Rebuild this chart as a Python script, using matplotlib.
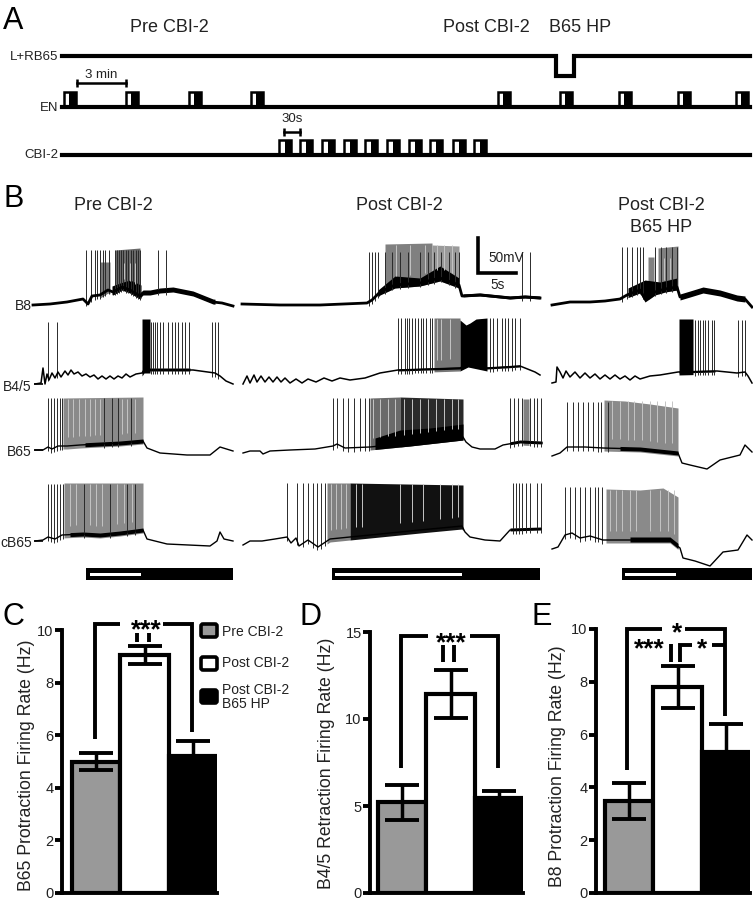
import numpy as np
import matplotlib
matplotlib.use('Agg')
import matplotlib.pyplot as plt
from matplotlib.patches import Rectangle, FancyBboxPatch

plt.rcParams['font.family'] = ['Liberation Sans', 'DejaVu Sans']

# panel C, D, E values
groups = ['Pre CBI-2', 'Post CBI-2', 'Post CBI-2\nB65 HP']
bar_colors = ['#999999', '#ffffff', '#000000']
b65_rate = [5.0, 9.05, 5.2]
b65_err = [0.33, 0.35, 0.58]
b45_rate = [5.22, 11.43, 5.48]
b45_err = [1.0, 1.4, 0.4]
b8_rate = [3.48, 7.8, 5.33]
b8_err = [0.67, 0.81, 1.06]

# panel A protocol
en_pulses = [64, 126, 189, 251, 498, 560, 619, 678, 736]
cbi_pulses = [279, 300, 322, 344, 365, 387, 409, 430, 453, 474]

# panel B traces, x and y read in pixels of the picture
b8_pre_x = [33, 50, 67, 83, 88, 92, 100, 108, 113, 122, 130, 140, 143, 150, 160, 173, 193, 213, 222, 233]
b8_pre_y = [305, 304, 302, 299, 304, 296, 295, 290, 292, 287, 290, 296, 293, 293, 291, 290, 294, 302, 303, 306]
b8_pre_spk = [86, 91, 95, 97, 100, 103, 105, 109, 115, 117, 119, 121, 123, 126, 128, 131, 133, 136, 138, 140, 158, 166]
b8_pre_band = [([100, 110], [262, 262], '#777777'), ([115, 140], [250, 248], '#6a6a6a'), ([112, 120, 130, 141], [286, 283, 280, 285], '#000000')]
b8_pre_light = [117, 124, 130, 135]
b8_pre_hair = (140, 215, 3, 2)

b45_pre_x = [35, 41, 43, 45, 47, 49, 52, 55, 58, 61, 65, 68, 71, 74, 78, 82, 86, 90, 94, 98, 102, 106, 110, 114, 118, 122, 126, 130, 136, 142, 144,
             173, 193, 215, 220, 226, 233]
b45_pre_y = [384, 383, 368, 384, 374, 380, 373, 378, 372, 377, 371, 375, 370, 374, 372, 376, 374, 377, 375, 379, 376, 379, 376, 379, 376, 378, 374, 377, 374, 373, 370,
             370, 370, 373, 376, 381, 384]
b45_pre_spk = [48, 57, 151, 153, 155, 157, 160, 163, 168, 172, 175, 178, 182, 185, 189, 212, 215, 218]
b45_pre_band = [([142, 150], [319, 319], '#000000')]
b45_pre_light = []
b45_pre_hair = (142, 190, 2, 1)

b65_pre_x = [35, 43, 48, 52, 58, 67, 80, 100, 120, 143, 147, 160, 187, 210, 220, 233]
b65_pre_y = [450, 450, 447, 449, 446, 446, 445, 444, 443, 441, 448, 453, 455, 455, 447, 451]
b65_pre_spk = [48, 51, 54, 57, 60, 62, 104, 112, 118, 131]
b65_pre_band = [([63, 143], [398, 397], '#8a8a8a')]
b65_pre_light = [68, 73, 79, 85, 90, 95, 100, 122, 127, 135]
b65_pre_hair = (85, 143, 2, 2)

cb65_pre_x = [35, 43, 48, 55, 62, 83, 100, 120, 143, 147, 167, 210, 217, 220, 224, 233]
cb65_pre_y = [541, 540, 537, 539, 535, 534, 535, 533, 530, 539, 544, 546, 541, 532, 539, 541]
cb65_pre_spk = [48, 51, 54, 57, 60, 63, 84, 110, 127, 135]
cb65_pre_band = [([64, 143], [483, 483], '#8a8a8a')]
cb65_pre_light = [70, 76, 90, 96, 102, 117, 124, 132]
cb65_pre_hair = (70, 143, 2, 2)

b8_post_x = [242, 280, 320, 367, 372, 380, 395, 420, 440, 459, 462, 480, 510, 525, 540]
b8_post_y = [304, 305, 305, 303, 300, 292, 285, 283, 278, 285, 296, 295, 298, 297, 298]
b8_post_spk = [369, 372, 375, 378, 385, 392, 400, 408, 420, 428, 434, 441, 449, 455, 459, 522, 530]
b8_post_band = [([385, 432], [244, 243], '#808080'), ([432, 459], [245, 246], '#9a9a9a'), ([378, 395, 420, 440, 459], [290, 276, 278, 266, 278], '#000000')]
b8_post_light = [396, 410, 425, 437, 444, 452]
b8_post_hair = (463, 540, 2, 1)

b45_post_x = [243, 247, 250, 254, 257, 261, 265, 269, 273, 277, 281, 285, 290, 296, 302, 308, 316, 324, 332, 340, 350,
              365, 380, 398, 430, 460, 468, 487, 505, 520, 535, 540]
b45_post_y = [384, 376, 383, 375, 382, 376, 382, 377, 382, 377, 382, 378, 383, 379, 383, 379, 382, 378, 381, 378, 380,
              378, 373, 370, 369, 368, 364, 368, 367, 366, 372, 375]
b45_post_spk = [398, 401, 405, 407, 409, 412, 415, 418, 421, 423, 426, 430, 432, 490, 493, 497, 502, 505, 508, 512, 515, 520]
b45_post_band = [([434, 460], [318, 318], '#777777'), ([460, 466, 470, 476, 487], [320, 325, 323, 319, 318], '#000000')]
b45_post_light = [437, 441, 450]
b45_post_hair = (398, 520, 1, 1)

b65_post_x = [243, 250, 260, 263, 270, 290, 315, 333, 337, 345, 370, 410, 463, 466, 472, 480, 495, 503, 520, 542]
b65_post_y = [453, 451, 451, 454, 451, 450, 449, 446, 444, 448, 447, 443, 437, 442, 447, 449, 449, 445, 442, 443]
b65_post_spk = [333, 337, 343, 348, 354, 360, 365, 369, 510, 514, 518, 522, 530, 534, 537, 541]
b65_post_band = [([370, 400], [398, 397], '#6a6a6a'), ([400, 463], [397, 399], '#2a2a2a'), ([375, 400, 430, 463], [438, 430, 428, 424], '#000000'),
                 ([523, 529], [399, 399], '#808080')]
b65_post_light = [373, 380, 388, 395, 404, 412, 420, 428, 436, 444, 452, 458]
b65_post_hair = (510, 542, 2, 1)

cb65_post_x = [243, 250, 262, 275, 287, 291, 296, 299, 308, 318, 330, 370, 420, 462, 465, 470, 485, 500, 510, 541]
cb65_post_y = [545, 541, 541, 539, 537, 543, 538, 546, 540, 547, 539, 535, 530, 526, 532, 537, 540, 541, 530, 529]
cb65_post_spk = [287, 297, 303, 308, 313, 317, 321, 325, 513, 516, 519, 522, 526, 530, 537, 541]
cb65_post_band = [([327, 350], [483, 483], '#808080'), ([350, 463], [483, 485], '#111111')]
cb65_post_light = [331, 336, 341, 346, 356, 362, 400, 412, 423, 440, 452, 458]
cb65_post_hair = (510, 541, 2, 1)

b8_hp_x = [552, 570, 590, 605, 620, 627, 640, 645, 655, 665, 677, 680, 690, 703, 720, 737, 745, 752]
b8_hp_y = [305, 302, 302, 301, 299, 295, 290, 299, 292, 289, 287, 297, 294, 290, 293, 298, 299, 307]
b8_hp_spk = [622, 627, 632, 637, 640, 643, 655, 661, 666, 672, 677]
b8_hp_band = [([648, 654], [257, 257], '#808080'), ([658, 678], [248, 246], '#808080'), ([628, 645, 660, 677], [288, 280, 282, 278], '#000000')]
b8_hp_light = [664, 670]
b8_hp_hair = (680, 745, 3, 3)

b45_hp_x = [552, 556, 557, 560, 563, 566, 570, 575, 580, 585, 590, 595, 600, 605, 610, 615, 620, 625, 630, 635, 640, 650, 660, 678,
            717, 737, 745, 748, 752]
b45_hp_y = [383, 382, 367, 372, 378, 371, 377, 372, 378, 373, 378, 374, 379, 375, 379, 375, 379, 376, 380, 376, 379, 376, 375, 372,
            371, 373, 372, 376, 383]
b45_hp_spk = [695, 698, 700, 703, 705, 708, 712, 714, 738, 742, 745]
b45_hp_band = [([679, 693], [319, 319], '#000000')]
b45_hp_light = []
b45_hp_hair = (679, 715, 1, 1)

b65_hp_x = [552, 560, 567, 585, 603, 640, 678, 682, 690, 707, 720, 740, 745, 752]
b65_hp_y = [456, 453, 447, 447, 448, 449, 453, 463, 465, 469, 460, 455, 445, 452]
b65_hp_spk = [567, 573, 578, 583, 588, 593, 598, 601, 608]
b65_hp_band = [([604, 625, 650, 678], [400, 401, 404, 408], '#8a8a8a')]
b65_hp_light = [612, 620, 628, 634, 642, 650, 657, 665, 672]
b65_hp_hair = (620, 678, 2, 2)

cb65_hp_x = [552, 558, 565, 572, 580, 590, 603, 630, 670, 680, 683, 695, 710, 723, 738, 747, 752]
cb65_hp_y = [549, 547, 535, 533, 538, 536, 540, 540, 540, 548, 558, 561, 566, 552, 550, 535, 540]
cb65_hp_spk = [565, 570, 575, 580, 585, 590, 595, 598, 602]
cb65_hp_band = [([606, 640, 663, 678], [489, 490, 488, 497], '#8a8a8a')]
cb65_hp_light = [610, 616, 622, 630, 636, 650, 660, 668, 674]
cb65_hp_hair = (630, 678, 3, 2)

fig = plt.figure(figsize=(7.53, 9), dpi=100)
canvas = fig.add_axes([0, 0, 1, 1])
canvas.set_xlim(0, 753)
canvas.set_ylim(900, 0)
canvas.axis('off')


def draw_trace(x, y, lw, spikes, top, bands, light, hair):
    for band_x, band_top, color in bands:
        inner = [v for v in x if band_x[0] < v < band_x[-1]]
        xs = np.sort(np.unique(list(band_x) + inner))
        canvas.fill_between(xs, np.interp(xs, band_x, band_top), np.interp(xs, x, y) + 3, color=color, lw=0)
    # lighter gaps between spikes in the dense parts
    if light:
        first = bands[0][1][0]
        canvas.vlines(light, first + 1, np.interp(light, x, y) - 9, color='#c4c4c4', lw=0.7)
    # black band that the spike feet make around the baseline
    x0, x1, up, down = hair
    inner = [v for v in x if x0 < v < x1]
    xs = np.array([x0] + inner + [x1])
    canvas.fill_between(xs, np.interp(xs, x, y) - up, np.interp(xs, x, y) + down, color='black', lw=0)
    spk_base = np.interp(spikes, x, y) + 4
    canvas.vlines(spikes, np.full(len(spikes), top), spk_base, color='#2a2a2a', lw=0.7)
    canvas.plot(x, y, color='black', lw=lw, solid_joinstyle='round')


def draw_pulses(starts, base, top, width):
    for s in starts:
        canvas.add_patch(Rectangle((s, top), width, base - top, fc='white', ec='black', lw=1.8))
        canvas.add_patch(Rectangle((s + width * 0.45, top), width * 0.55, base - top, fc='black', ec='black', lw=0))


def draw_bars(left, right, top, bottom, rate, err, ymax, ticks):
    ax = fig.add_axes([left / 753, 1 - bottom / 900, (right - left) / 753, (bottom - top) / 900])
    ax.patch.set_alpha(0)
    bar_w = 48.3
    ax.set_xlim(0, right - left)
    ax.set_ylim(0, ymax)
    pos = [right - left - bar_w * (2.5 - i) for i in range(3)]
    ax.bar(pos, rate, width=bar_w, color=bar_colors, edgecolor='black', lw=3)
    ax.errorbar(pos, rate, yerr=err, fmt='none', ecolor='black', elinewidth=2.5, capsize=12.5, capthick=2.8)
    for s in ['top', 'right']:
        ax.spines[s].set_visible(False)
    ax.spines['left'].set_linewidth(2.8)
    ax.spines['left'].set_bounds(0, ymax)
    ax.spines['bottom'].set_linewidth(2.8)
    ax.set_xticks([])
    ax.set_yticks(ticks)
    ax.tick_params(axis='y', width=2.8, length=5, labelsize=10.5, pad=1, labelcolor='#222222')
    return ax


# panel A
canvas.text(3, 21, 'A', fontsize=22, va='center')
canvas.text(169, 28, 'Pre CBI-2', fontsize=13, ha='center', va='center', color='#222222')
canvas.text(486, 28, 'Post CBI-2', fontsize=13, ha='center', va='center', color='#222222')
canvas.text(580, 28, 'B65 HP', fontsize=13, ha='center', va='center', color='#222222')
canvas.plot([62, 556, 556, 574, 574, 750], [55.5, 55.5, 76, 76, 55.5, 55.5], color='black', lw=3, solid_joinstyle='miter')
canvas.plot([62, 750], [107, 107], color='black', lw=3)
canvas.plot([62, 750], [155, 155], color='black', lw=3)
draw_pulses(en_pulses, 107, 92, 12)
draw_pulses(cbi_pulses, 155, 140, 12.5)
canvas.text(58, 57, 'L+RB65', fontsize=9.5, ha='right', va='center', color='#222222')
canvas.text(58, 108, 'EN', fontsize=9.5, ha='right', va='center', color='#222222')
canvas.text(58, 155, 'CBI-2', fontsize=9.5, ha='right', va='center', color='#222222')
canvas.plot([77, 126], [83, 83], color='black', lw=1.8)
canvas.vlines([77, 126], 79, 87, color='black', lw=1.8)
canvas.text(101, 75, '3 min', fontsize=9.5, ha='center', va='center', color='#222222')
canvas.plot([284, 300], [132, 132], color='black', lw=1.8)
canvas.vlines([284, 300], 128, 136, color='black', lw=1.8)
canvas.text(292, 119, '30s', fontsize=9.5, ha='center', va='center', color='#222222')

# panel B
canvas.text(3, 199, 'B', fontsize=22, va='center')
canvas.text(113, 206, 'Pre CBI-2', fontsize=13, ha='center', va='center', color='#222222')
canvas.text(399, 206, 'Post CBI-2', fontsize=13, ha='center', va='center', color='#222222')
canvas.text(661, 206, 'Post CBI-2', fontsize=13, ha='center', va='center', color='#222222')
canvas.text(661, 227, 'B65 HP', fontsize=13, ha='center', va='center', color='#222222')

draw_trace(b8_pre_x, b8_pre_y, 2, b8_pre_spk, 250, b8_pre_band, b8_pre_light, b8_pre_hair)
draw_trace(b45_pre_x, b45_pre_y, 1.1, b45_pre_spk, 322, b45_pre_band, b45_pre_light, b45_pre_hair)
draw_trace(b65_pre_x, b65_pre_y, 1, b65_pre_spk, 398, b65_pre_band, b65_pre_light, b65_pre_hair)
draw_trace(cb65_pre_x, cb65_pre_y, 1, cb65_pre_spk, 484, cb65_pre_band, cb65_pre_light, cb65_pre_hair)
draw_trace(b8_post_x, b8_post_y, 2, b8_post_spk, 252, b8_post_band, b8_post_light, b8_post_hair)
draw_trace(b45_post_x, b45_post_y, 1.1, b45_post_spk, 318, b45_post_band, b45_post_light, b45_post_hair)
draw_trace(b65_post_x, b65_post_y, 1, b65_post_spk, 398, b65_post_band, b65_post_light, b65_post_hair)
draw_trace(cb65_post_x, cb65_post_y, 1, cb65_post_spk, 483, cb65_post_band, cb65_post_light, cb65_post_hair)
draw_trace(b8_hp_x, b8_hp_y, 2, b8_hp_spk, 247, b8_hp_band, b8_hp_light, b8_hp_hair)
draw_trace(b45_hp_x, b45_hp_y, 1.1, b45_hp_spk, 320, b45_hp_band, b45_hp_light, b45_hp_hair)
draw_trace(b65_hp_x, b65_hp_y, 1, b65_hp_spk, 402, b65_hp_band, b65_hp_light, b65_hp_hair)
draw_trace(cb65_hp_x, cb65_hp_y, 1, cb65_hp_spk, 487, cb65_hp_band, cb65_hp_light, cb65_hp_hair)

canvas.text(32, 306, 'B8', fontsize=10, ha='right', va='center', color='#222222')
canvas.text(32, 387, 'B4/5', fontsize=10, ha='right', va='center', color='#222222')
canvas.text(32, 452, 'B65', fontsize=10, ha='right', va='center', color='#222222')
canvas.text(32, 543, 'cB65', fontsize=10, ha='right', va='center', color='#222222')
canvas.hlines([384, 450, 541], 34, 43, color='black', lw=1.2)

canvas.plot([478, 478, 516], [238, 273, 273], color='black', lw=2.6, solid_joinstyle='miter')
canvas.text(488, 258, '50mV', fontsize=9.8, va='center', color='#222222')
canvas.text(498, 285, '5s', fontsize=9.8, ha='center', va='center', color='#222222')

for x0, x1, wx0, wx1 in [(86, 233, 90, 141), (332, 540, 335, 462), (622, 752, 625, 676)]:
    canvas.add_patch(Rectangle((x0, 568), x1 - x0, 12, fc='black', ec='none'))
    canvas.add_patch(Rectangle((wx0, 572.5), wx1 - wx0, 3.5, fc='white', ec='none'))

# panels C, D, E
draw_bars(62, 217, 630, 893, b65_rate, b65_err, 10, [0, 2, 4, 6, 8, 10])
draw_bars(370, 523, 632, 893, b45_rate, b45_err, 15, [0, 5, 10, 15])
draw_bars(596, 750, 629, 893, b8_rate, b8_err, 10, [0, 2, 4, 6, 8, 10])

canvas.set_zorder(5)
canvas.text(2, 617, 'C', fontsize=22, va='center')
canvas.text(300, 617, 'D', fontsize=22, va='center')
canvas.text(532, 617, 'E', fontsize=22, va='center')
canvas.text(27, 765, 'B65 Protraction Firing Rate (Hz)', fontsize=12.7, rotation=90, ha='center', va='center', color='#222222')
canvas.text(327, 763, 'B4/5 Retraction Firing Rate (Hz)', fontsize=12.7, rotation=90, ha='center', va='center', color='#222222')
canvas.text(558, 766, 'B8 Protraction Firing Rate (Hz)', fontsize=12.7, rotation=90, ha='center', va='center', color='#222222')

# significance brackets
bk = dict(color='black', lw=2.8, solid_joinstyle='miter', solid_capstyle='butt')
canvas.plot([95, 95, 120], [739, 624, 624], **bk)
canvas.plot([163, 192, 192], [624, 624, 732], **bk)
canvas.vlines([137, 149], 633, 642, color='black', lw=2.8)
canvas.text(146, 630, '***', fontsize=19, ha='center', va='center', fontweight='bold')
canvas.plot([401, 401, 428], [768, 636, 636], **bk)
canvas.plot([470, 498, 498], [636, 636, 768], **bk)
canvas.vlines([443, 454], 645, 662, color='black', lw=2.8)
canvas.text(451, 643, '***', fontsize=19, ha='center', va='center', fontweight='bold')
canvas.plot([627, 627, 662], [770, 629, 629], **bk)
canvas.plot([685, 725, 725], [629, 629, 716], **bk)
canvas.text(677, 633, '*', fontsize=19, ha='center', va='center', fontweight='bold')
canvas.vlines([671], 644, 662, color='black', lw=2.8)
canvas.plot([680, 680, 692], [662, 645, 645], **bk)
canvas.plot([712, 725], [645, 645], **bk)
canvas.text(649, 649, '***', fontsize=19, ha='center', va='center', fontweight='bold')
canvas.text(702, 649, '*', fontsize=19, ha='center', va='center', fontweight='bold')

# legend of panel C
for (y0, color) in zip([623, 656, 689], bar_colors):
    canvas.add_patch(FancyBboxPatch((201, y0 + 1), 16, 13, boxstyle='round,pad=0,rounding_size=2', fc=color, ec='black', lw=2.6))
canvas.text(222, 632, groups[0], fontsize=10, va='center', color='#222222')
canvas.text(222, 663, groups[1], fontsize=10, va='center', color='#222222')
canvas.text(222, 697, groups[2], fontsize=10, va='center', color='#222222', linespacing=1.05)

fig.savefig('out.png', dpi=100)
